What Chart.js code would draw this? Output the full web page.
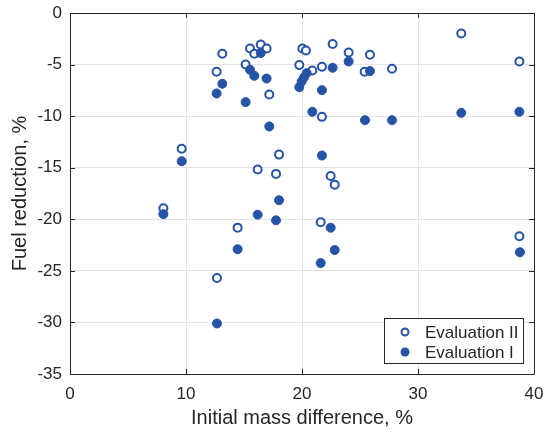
<!DOCTYPE html>
<html>
<head>
<meta charset="utf-8">
<script src="https://cdn.jsdelivr.net/npm/chart.js@4"></script>
<style>
  html, body { margin: 0; padding: 0; background: #fff; }
  #wrap { width: 547px; height: 432px; }
</style>
</head>
<body>
<div id="wrap"><canvas id="fuelChart" width="547" height="432"></canvas></div>
<script>
// --- DATA ---
const evalIIx = [8.05, 9.63, 12.64, 12.67, 13.13, 14.45, 15.14, 15.52, 15.89, 16.18, 16.44, 16.95, 17.18, 17.76, 18.02, 19.77, 20.03, 20.34, 20.89, 21.61, 21.72, 21.72, 22.47, 22.64, 22.82, 24.02, 25.40, 25.86, 27.76, 33.73, 38.74, 38.74];
const evalIIy = [-18.93, -13.17, -5.70, -25.70, -3.95, -20.81, -4.99, -3.44, -3.95, -15.18, -3.05, -3.44, -7.90, -15.60, -13.73, -5.05, -3.44, -3.63, -5.57, -20.29, -5.21, -10.07, -15.80, -3.01, -16.64, -3.83, -5.70, -4.05, -5.41, -1.98, -4.70, -21.65];

const evalIx = [8.05, 9.63, 12.64, 12.67, 13.13, 14.45, 15.14, 15.52, 15.89, 16.18, 16.44, 16.95, 17.18, 17.76, 18.02, 19.77, 19.97, 20.17, 20.40, 20.89, 21.61, 21.72, 21.72, 22.47, 22.64, 22.82, 24.02, 25.43, 25.86, 27.76, 33.73, 38.74, 38.79];
const evalIy = [-19.50, -14.37, -7.80, -30.10, -6.86, -22.90, -8.64, -5.50, -6.09, -19.55, -3.88, -6.35, -11.00, -20.10, -18.15, -7.19, -6.64, -6.25, -5.83, -9.58, -24.24, -7.48, -13.82, -20.82, -5.31, -22.98, -4.70, -10.39, -5.63, -10.39, -9.68, -9.58, -23.20];

const seriesLabels = ['Evaluation II', 'Evaluation I'];
const xTicks = [0, 10, 20, 30, 40];
const yTicks = [-35, -30, -25, -20, -15, -10, -5, 0];

const BLUE = '#2553a6';
const AXIS = '#262626';
const FONT = "'Liberation Sans', Arial, Helvetica, sans-serif";

const toPoints = (xs, ys) => xs.map((x, i) => ({ x: x, y: ys[i] }));

// box, inward tick marks and legend in the MATLAB style
const boxPlugin = {
    id: 'box',
    afterDraw(chart) {
        const ctx = chart.ctx;
        const a = chart.chartArea;
        const xs = chart.scales.x, ys = chart.scales.y;
        ctx.save();
        ctx.strokeStyle = AXIS;
        ctx.lineWidth = 1;
        ctx.beginPath();
        ctx.rect(Math.round(a.left) + 0.5, Math.round(a.top) + 0.5, Math.round(a.right - a.left), Math.round(a.bottom - a.top));
        ctx.stroke();
        // tick marks pointing inward
        const tl = 5;
        ctx.beginPath();
        xTicks.forEach(v => {
            const p = Math.round(xs.getPixelForValue(v)) + 0.5;
            ctx.moveTo(p, a.bottom); ctx.lineTo(p, a.bottom - tl);
            ctx.moveTo(p, a.top); ctx.lineTo(p, a.top + tl);
        });
        yTicks.forEach(v => {
            const p = Math.round(ys.getPixelForValue(v)) + 0.5;
            ctx.moveTo(a.left, p); ctx.lineTo(a.left + tl, p);
            ctx.moveTo(a.right, p); ctx.lineTo(a.right - tl, p);
        });
        ctx.stroke();

        // legend
        const w = 139, h = 45;
        const lx = Math.round(a.right - 11 - w), ly = Math.round(a.bottom - 11 - h);
        ctx.fillStyle = '#fff';
        ctx.fillRect(lx, ly, w, h);
        ctx.strokeRect(lx + 0.5, ly + 0.5, w, h);
        const rows = [ly + 14, ly + 34];
        // open marker
        ctx.beginPath();
        ctx.arc(lx + 21, rows[0], 3.5, 0, Math.PI * 2);
        ctx.fillStyle = '#fff';
        ctx.fill();
        ctx.lineWidth = 2;
        ctx.strokeStyle = BLUE;
        ctx.stroke();
        // filled marker
        ctx.beginPath();
        ctx.arc(lx + 21, rows[1], 4.5, 0, Math.PI * 2);
        ctx.fillStyle = BLUE;
        ctx.fill();
        ctx.fillStyle = AXIS;
        ctx.font = '17px ' + FONT;
        ctx.textAlign = 'left';
        ctx.textBaseline = 'middle';
        ctx.fillText(seriesLabels[0], lx + 41, rows[0] + 1);
        ctx.fillText(seriesLabels[1], lx + 41, rows[1] + 1);
        ctx.restore();
    }
};

const bgPlugin = {
    id: 'bg',
    beforeDraw(chart) {
        const ctx = chart.ctx;
        ctx.save();
        ctx.fillStyle = '#fff';
        ctx.fillRect(0, 0, chart.width, chart.height);
        ctx.restore();
    }
};

new Chart(document.getElementById('fuelChart').getContext('2d'), {
    type: 'scatter',
    data: {
        datasets: [
            {
                label: seriesLabels[0],
                data: toPoints(evalIIx, evalIIy),
                pointRadius: 4,
                pointBorderWidth: 2,
                pointBorderColor: BLUE,
                pointBackgroundColor: '#fff',
                order: 2
            },
            {
                label: seriesLabels[1],
                data: toPoints(evalIx, evalIy),
                pointRadius: 4.5,
                pointBorderWidth: 1,
                pointBorderColor: BLUE,
                pointBackgroundColor: BLUE,
                order: 1
            }
        ]
    },
    options: {
        responsive: false,
        animation: false,
        layout: { padding: { top: 13, right: 13, left: 0, bottom: 0 } },
        plugins: {
            legend: { display: false },
            tooltip: { enabled: false }
        },
        elements: { point: { hoverRadius: 4 } },
        scales: {
            x: {
                type: 'linear',
                min: 0, max: 40,
                afterBuildTicks: (s) => { s.ticks = xTicks.map(v => ({ value: v })); },
                afterFit: (s) => { s.height = 58; s.paddingLeft = 0; s.paddingRight = 0; },
                grid: { color: '#e3e3e3', drawTicks: false },
                border: { display: false },
                ticks: { color: AXIS, font: { size: 17, family: FONT }, padding: 10, maxRotation: 0 },
                title: { display: true, text: 'Initial mass difference, %', color: AXIS, font: { size: 20, family: FONT }, padding: { top: 0, bottom: 2 } }
            },
            y: {
                type: 'linear',
                min: -35, max: 0,
                afterBuildTicks: (s) => { s.ticks = yTicks.map(v => ({ value: v })); },
                afterFit: (s) => { s.width = 70; s.paddingTop = 0; s.paddingBottom = 0; },
                grid: { color: '#e3e3e3', drawTicks: false },
                border: { display: false },
                ticks: { color: AXIS, font: { size: 17, family: FONT }, padding: 8 },
                title: { display: true, text: 'Fuel reduction, %', color: AXIS, font: { size: 20, family: FONT }, padding: { top: 8, bottom: 0 } }
            }
        }
    },
    plugins: [bgPlugin, boxPlugin]
});
</script>
</body>
</html>
